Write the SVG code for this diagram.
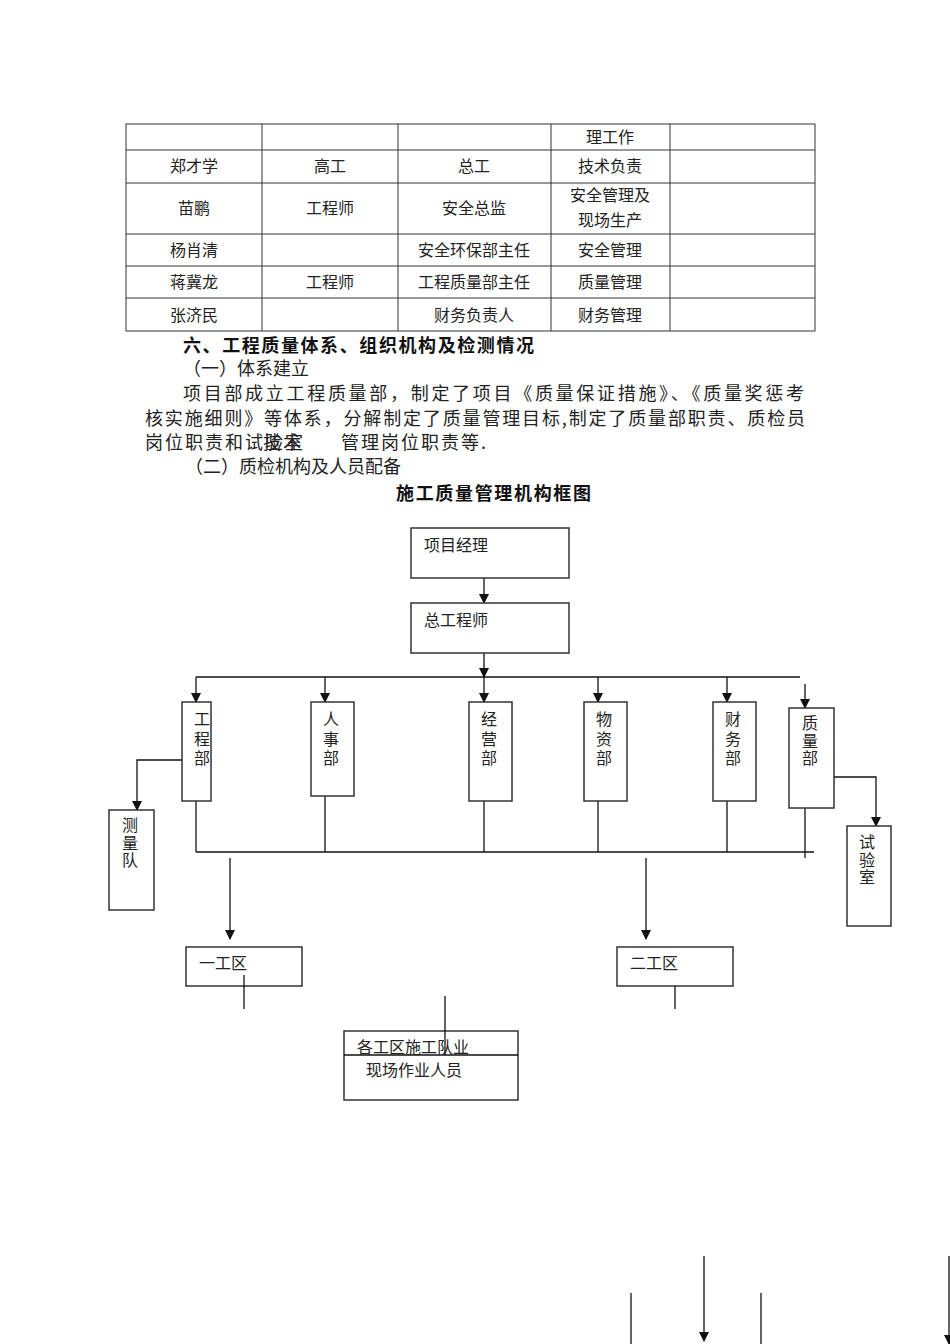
<svg xmlns="http://www.w3.org/2000/svg" width="950" height="1344" viewBox="0 0 950 1344">
<defs>
<style>
.t{font-family:"Noto Sans CJK SC","Liberation Serif",sans-serif;fill:#222;font-size:16px}
.v{font-family:"Noto Sans CJK SC","Liberation Serif",sans-serif;fill:#222;font-size:16px;writing-mode:vertical-rl;letter-spacing:3.5px}
.v2{letter-spacing:1.5px}
.p{font-family:"Noto Sans CJK SC","Liberation Serif",sans-serif;fill:#222;font-size:18px}
.b{font-family:"Noto Sans CJK SC","Liberation Sans",sans-serif;fill:#111;font-size:18px;font-weight:bold}
.c{text-anchor:middle}
.grid{stroke:#333;stroke-width:1;fill:none}
.box{fill:#fff;stroke:#333;stroke-width:1.5}
.ln{stroke:#111;stroke-width:1.3;fill:none}
.ar{stroke:#111;stroke-width:1.3;fill:none;marker-end:url(#ah)}
</style>
<marker id="ah" markerWidth="10" markerHeight="10" refX="9" refY="5" orient="auto" markerUnits="userSpaceOnUse">
<path d="M0,0 L10,5 L0,10 Z" fill="#111"/>
</marker>
</defs>
<rect width="950" height="1344" fill="#fff"/>

<g id="table">
<rect class="grid" x="126" y="124" width="689" height="207"/>
<path class="grid" d="M126,150H815M126,183H815M126,234H815M126,266H815M126,298H815M262,124V331M398,124V331M551,124V331M670,124V331"/>
<text class="t c" x="610" y="143">理工作</text>
<text class="t c" x="194" y="172">郑才学</text>
<text class="t c" x="330" y="172">高工</text>
<text class="t c" x="474" y="172">总工</text>
<text class="t c" x="610" y="172">技术负责</text>
<text class="t c" x="194" y="214">苗鹏</text>
<text class="t c" x="330" y="214">工程师</text>
<text class="t c" x="474" y="214">安全总监</text>
<text class="t c" x="610" y="201">安全管理及</text>
<text class="t c" x="610" y="226">现场生产</text>
<text class="t c" x="194" y="256">杨肖清</text>
<text class="t c" x="474" y="256">安全环保部主任</text>
<text class="t c" x="610" y="256">安全管理</text>
<text class="t c" x="194" y="288">蒋冀龙</text>
<text class="t c" x="330" y="288">工程师</text>
<text class="t c" x="474" y="288">工程质量部主任</text>
<text class="t c" x="610" y="288">质量管理</text>
<text class="t c" x="194" y="321">张济民</text>
<text class="t c" x="474" y="321">财务负责人</text>
<text class="t c" x="610" y="321">财务管理</text>
</g>

<g id="body-text">
<text class="b" x="183" y="352" textLength="351">六、工程质量体系、组织机构及检测情况</text>
<text class="p" x="183" y="375">（一）体系建立</text>
<text class="p" x="183" y="400" textLength="621" lengthAdjust="spacing">项目部成立工程质量部，制定了项目《质量保证措施》、《质量奖惩考</text>
<text class="p" x="145" y="425" textLength="660" lengthAdjust="spacing">核实施细则》等体系，分解制定了质量管理目标,制定了质量部职责、质检员</text>
<text class="p" x="145" y="449" letter-spacing="2">岗位职责和试验室</text>
<text class="p" x="263" y="449" letter-spacing="2">技术</text>
<text class="p" x="341" y="449" letter-spacing="2">管理岗位职责等.</text>
<text class="p" x="185" y="473">（二）质检机构及人员配备</text>
<text class="b" x="396" y="500" textLength="195">施工质量管理机构框图</text>
</g>

<g id="connectors">
<line class="ar" x1="484" y1="578" x2="484" y2="603"/>
<line class="ar" x1="484" y1="653" x2="484" y2="677"/>
<line class="ln" x1="196" y1="677" x2="800" y2="677"/>
<line class="ar" x1="196" y1="677" x2="196" y2="702"/>
<line class="ar" x1="325" y1="677" x2="325" y2="702"/>
<line class="ar" x1="484" y1="677" x2="484" y2="702"/>
<line class="ar" x1="598" y1="677" x2="598" y2="702"/>
<line class="ar" x1="727" y1="677" x2="727" y2="702"/>
<line class="ar" x1="805" y1="684" x2="805" y2="708"/>
<polyline class="ar" points="182,760 137,760 137,810"/>
<polyline class="ar" points="834,777 876,777 876,826"/>
<line class="ln" x1="196" y1="852" x2="814" y2="852"/>
<line class="ln" x1="196" y1="801" x2="196" y2="852"/>
<line class="ln" x1="325" y1="796" x2="325" y2="852"/>
<line class="ln" x1="484" y1="801" x2="484" y2="852"/>
<line class="ln" x1="598" y1="801" x2="598" y2="852"/>
<line class="ln" x1="727" y1="801" x2="727" y2="852"/>
<line class="ln" x1="805" y1="808" x2="805" y2="858"/>
<line class="ar" x1="230" y1="858" x2="230" y2="939"/>
<line class="ar" x1="646" y1="858" x2="646" y2="939"/>
<line class="ar" x1="704" y1="1256" x2="704" y2="1341"/>
<line class="ar" x1="949" y1="1256" x2="949" y2="1344"/>
<line class="ln" x1="631" y1="1293" x2="631" y2="1344"/>
<line class="ln" x1="761" y1="1293" x2="761" y2="1344"/>
</g>

<g id="n-xmjl"><rect class="box" x="411" y="528" width="158" height="50"/><text class="t" x="424" y="551">项目经理</text></g>
<g id="n-zgcs"><rect class="box" x="411" y="603" width="158" height="50"/><text class="t" x="424" y="626">总工程师</text></g>
<g id="n-gcb"><rect class="box" x="182" y="702" width="29" height="99"/><text class="v" x="202" y="711">工程部</text></g>
<g id="n-rsb"><rect class="box" x="311" y="702" width="43" height="94"/><text class="v" x="331" y="711">人事部</text></g>
<g id="n-jyb"><rect class="box" x="469" y="702" width="43" height="99"/><text class="v" x="489" y="711">经营部</text></g>
<g id="n-wzb"><rect class="box" x="584" y="702" width="43" height="99"/><text class="v" x="604" y="711">物资部</text></g>
<g id="n-cwb"><rect class="box" x="713" y="702" width="43" height="99"/><text class="v" x="733" y="711">财务部</text></g>
<g id="n-zlb"><rect class="box" x="789" y="708" width="45" height="100"/><text class="v v2" x="810" y="715">质量部</text></g>
<g id="n-cld"><rect class="box" x="109" y="810" width="45" height="100"/><text class="v v2" x="130" y="817">测量队</text></g>
<g id="n-sys"><rect class="box" x="847" y="826" width="44" height="100"/><text class="v v2" x="867" y="834">试验室</text></g>
<g id="n-ygq"><rect class="box" x="186" y="947" width="116" height="39"/><text class="t" x="199" y="969">一工区</text><line class="ln" x1="244" y1="975" x2="244" y2="1009"/></g>
<g id="n-egq"><rect class="box" x="617" y="947" width="116" height="39"/><text class="t" x="630" y="969">二工区</text><line class="ln" x1="675" y1="986" x2="675" y2="1009"/></g>
<g id="n-gq"><rect class="box" x="344" y="1031" width="174" height="69"/><line class="ln" x1="344" y1="1055" x2="518" y2="1055"/><text class="t" x="357" y="1053">各工区施工队业</text><text class="t" x="366" y="1076">现场作业人员</text><line class="ln" x1="445" y1="996" x2="445" y2="1055"/></g>
</svg>
